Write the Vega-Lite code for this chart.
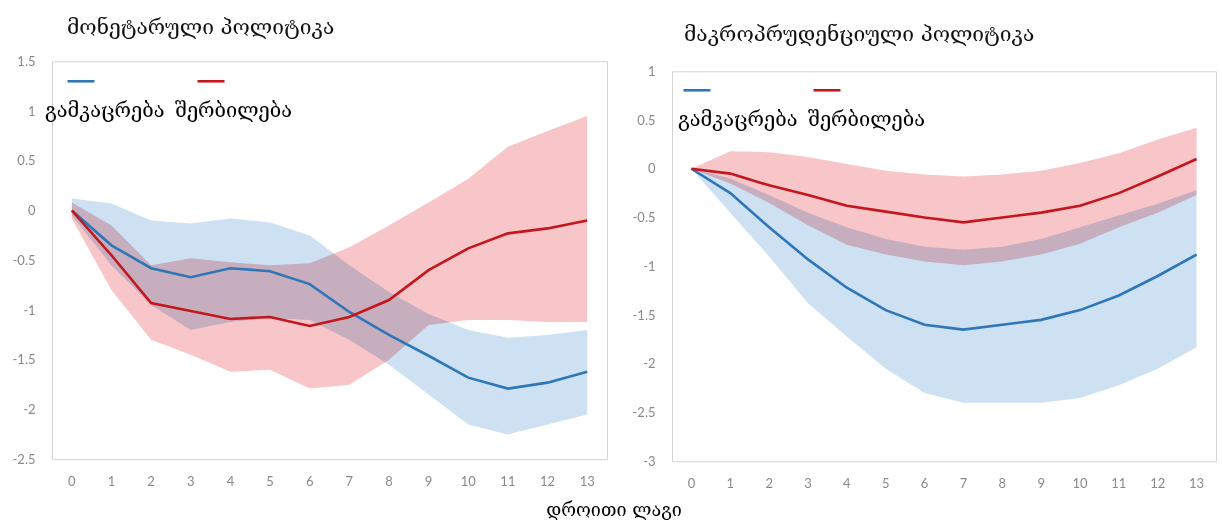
{
  "$schema": "https://vega.github.io/schema/vega-lite/v6.json",
  "background": "white",
  "padding": {"left": 11, "top": 16, "right": 4, "bottom": 0},
  "datasets": {
    "monetary": [
      {"lag": 0, "series": "გამკაცრება", "mid": 0, "lo": -0.05, "hi": 0.12},
      {"lag": 1, "series": "გამკაცრება", "mid": -0.35, "lo": -0.55, "hi": 0.07},
      {"lag": 2, "series": "გამკაცრება", "mid": -0.58, "lo": -0.95, "hi": -0.1},
      {"lag": 3, "series": "გამკაცრება", "mid": -0.67, "lo": -1.2, "hi": -0.13},
      {"lag": 4, "series": "გამკაცრება", "mid": -0.58, "lo": -1.12, "hi": -0.08},
      {"lag": 5, "series": "გამკაცრება", "mid": -0.61, "lo": -1.08, "hi": -0.12},
      {"lag": 6, "series": "გამკაცრება", "mid": -0.74, "lo": -1.1, "hi": -0.25},
      {"lag": 7, "series": "გამკაცრება", "mid": -1.02, "lo": -1.3, "hi": -0.55},
      {"lag": 8, "series": "გამკაცრება", "mid": -1.25, "lo": -1.55, "hi": -0.82},
      {"lag": 9, "series": "გამკაცრება", "mid": -1.46, "lo": -1.85, "hi": -1.04},
      {"lag": 10, "series": "გამკაცრება", "mid": -1.68, "lo": -2.15, "hi": -1.2},
      {"lag": 11, "series": "გამკაცრება", "mid": -1.79, "lo": -2.25, "hi": -1.28},
      {"lag": 12, "series": "გამკაცრება", "mid": -1.73, "lo": -2.15, "hi": -1.25},
      {"lag": 13, "series": "გამკაცრება", "mid": -1.62, "lo": -2.05, "hi": -1.2},
      {"lag": 0, "series": "შერბილება", "mid": 0, "lo": -0.08, "hi": 0.08},
      {"lag": 1, "series": "შერბილება", "mid": -0.45, "lo": -0.8, "hi": -0.15},
      {"lag": 2, "series": "შერბილება", "mid": -0.93, "lo": -1.3, "hi": -0.55},
      {"lag": 3, "series": "შერბილება", "mid": -1.01, "lo": -1.45, "hi": -0.48},
      {"lag": 4, "series": "შერბილება", "mid": -1.09, "lo": -1.62, "hi": -0.52},
      {"lag": 5, "series": "შერბილება", "mid": -1.07, "lo": -1.6, "hi": -0.55},
      {"lag": 6, "series": "შერბილება", "mid": -1.16, "lo": -1.79, "hi": -0.53},
      {"lag": 7, "series": "შერბილება", "mid": -1.07, "lo": -1.75, "hi": -0.37},
      {"lag": 8, "series": "შერბილება", "mid": -0.9, "lo": -1.5, "hi": -0.15},
      {"lag": 9, "series": "შერბილება", "mid": -0.6, "lo": -1.15, "hi": 0.08},
      {"lag": 10, "series": "შერბილება", "mid": -0.38, "lo": -1.1, "hi": 0.32},
      {"lag": 11, "series": "შერბილება", "mid": -0.23, "lo": -1.1, "hi": 0.64},
      {"lag": 12, "series": "შერბილება", "mid": -0.18, "lo": -1.12, "hi": 0.8},
      {"lag": 13, "series": "შერბილება", "mid": -0.1, "lo": -1.12, "hi": 0.95}
    ],
    "macroprudential": [
      {"lag": 0, "series": "გამკაცრება", "mid": 0, "lo": 0, "hi": 0},
      {"lag": 1, "series": "გამკაცრება", "mid": -0.25, "lo": -0.45, "hi": -0.1},
      {"lag": 2, "series": "გამკაცრება", "mid": -0.6, "lo": -0.9, "hi": -0.27},
      {"lag": 3, "series": "გამკაცრება", "mid": -0.93, "lo": -1.38, "hi": -0.45},
      {"lag": 4, "series": "გამკაცრება", "mid": -1.22, "lo": -1.72, "hi": -0.6},
      {"lag": 5, "series": "გამკაცრება", "mid": -1.45, "lo": -2.05, "hi": -0.72},
      {"lag": 6, "series": "გამკაცრება", "mid": -1.6, "lo": -2.3, "hi": -0.8},
      {"lag": 7, "series": "გამკაცრება", "mid": -1.65, "lo": -2.4, "hi": -0.83},
      {"lag": 8, "series": "გამკაცრება", "mid": -1.6, "lo": -2.4, "hi": -0.8},
      {"lag": 9, "series": "გამკაცრება", "mid": -1.55, "lo": -2.4, "hi": -0.72},
      {"lag": 10, "series": "გამკაცრება", "mid": -1.45, "lo": -2.35, "hi": -0.6},
      {"lag": 11, "series": "გამკაცრება", "mid": -1.3, "lo": -2.22, "hi": -0.48},
      {"lag": 12, "series": "გამკაცრება", "mid": -1.1, "lo": -2.05, "hi": -0.36},
      {"lag": 13, "series": "გამკაცრება", "mid": -0.88, "lo": -1.83, "hi": -0.22},
      {"lag": 0, "series": "შერბილება", "mid": 0, "lo": 0, "hi": 0},
      {"lag": 1, "series": "შერბილება", "mid": -0.05, "lo": -0.15, "hi": 0.18},
      {"lag": 2, "series": "შერბილება", "mid": -0.17, "lo": -0.35, "hi": 0.17},
      {"lag": 3, "series": "შერბილება", "mid": -0.27, "lo": -0.58, "hi": 0.12},
      {"lag": 4, "series": "შერბილება", "mid": -0.38, "lo": -0.78, "hi": 0.05},
      {"lag": 5, "series": "შერბილება", "mid": -0.44, "lo": -0.88, "hi": -0.02},
      {"lag": 6, "series": "შერბილება", "mid": -0.5, "lo": -0.95, "hi": -0.06},
      {"lag": 7, "series": "შერბილება", "mid": -0.55, "lo": -0.99, "hi": -0.08},
      {"lag": 8, "series": "შერბილება", "mid": -0.5, "lo": -0.95, "hi": -0.06},
      {"lag": 9, "series": "შერბილება", "mid": -0.45, "lo": -0.88, "hi": -0.02},
      {"lag": 10, "series": "შერბილება", "mid": -0.38, "lo": -0.77, "hi": 0.06},
      {"lag": 11, "series": "შერბილება", "mid": -0.25, "lo": -0.6, "hi": 0.16},
      {"lag": 12, "series": "შერბილება", "mid": -0.08, "lo": -0.45, "hi": 0.3},
      {"lag": 13, "series": "შერბილება", "mid": 0.1, "lo": -0.27, "hi": 0.42}
    ]
  },
  "title": {
    "text": "დროითი ლაგი",
    "orient": "bottom",
    "anchor": "middle",
    "offset": 1,
    "fontSize": 18,
    "color": "#000000"
  },
  "spacing": 23,
  "align": "each",
  "center": true,
  "hconcat": [
    {
      "width": 555,
      "height": 398,
      "title": {"text": "მონეტარული პოლიტიკა", "anchor": "start", "frame": "group", "dx": 15, "offset": 17, "fontSize": 21},
      "data": {"name": "monetary"},
      "encoding": {
        "x": {"field": "lag", "type": "ordinal", "sort": "ascending", "title": null,
              "axis": {"labelAngle": 0, "ticks": true, "tickSize": 41, "tickColor": "transparent", "tickOpacity": 0, "labelPadding": -25}}
      },
      "layer": [
        {
          "transform": [{"filter": "datum.series === 'გამკაცრება'"}],
          "mark": {"type": "area", "color": "#cde1f3", "blend": "multiply"},
          "encoding": {
            "y": {"field": "lo", "type": "quantitative",
                  "scale": {"domain": [-2.5, 1.5], "nice": false, "zero": false},
                  "axis": {"values": [-2.5, -2, -1.5, -1, -0.5, 0, 0.5, 1, 1.5], "labelExpr": "datum.value + ''", "labelPadding": 17, "title": null}},
            "y2": {"field": "hi"}
          }
        },
        {
          "transform": [{"filter": "datum.series === 'შერბილება'"}],
          "mark": {"type": "area", "color": "#f8c5c9", "blend": "multiply"},
          "encoding": {
            "y": {"field": "lo", "type": "quantitative"},
            "y2": {"field": "hi"}
          }
        },
        {
          "mark": {"type": "rule", "color": "#5a5a5a", "strokeWidth": 1.3},
          "encoding": {"y": {"datum": 0}}
        },
        {
          "mark": {"type": "line", "strokeWidth": 2.6},
          "encoding": {
            "y": {"field": "mid", "type": "quantitative"},
            "stroke": {"field": "series", "type": "nominal",
                       "scale": {"domain": ["გამკაცრება", "შერბილება"], "range": ["#2f76b7", "#c3161d"]},
                       "legend": {"legendX": 14, "legendY": 25, "labelOffset": -51}}
          }
        }
      ]
    },
    {
      "width": 544,
      "height": 390,
      "title": {"text": "მაკროპრუდენციული პოლიტიკა", "anchor": "start", "frame": "group", "dx": 12, "offset": 20, "fontSize": 21},
      "data": {"name": "macroprudential"},
      "encoding": {
        "x": {"field": "lag", "type": "ordinal", "sort": "ascending", "title": null,
              "axis": {"labelAngle": 0, "labelPadding": 16}}
      },
      "layer": [
        {
          "transform": [{"filter": "datum.series === 'გამკაცრება'"}],
          "mark": {"type": "area", "color": "#cde1f3", "blend": "multiply"},
          "encoding": {
            "y": {"field": "lo", "type": "quantitative",
                  "scale": {"domain": [-3, 1], "nice": false, "zero": false},
                  "axis": {"values": [-3, -2.5, -2, -1.5, -1, -0.5, 0, 0.5, 1], "labelExpr": "datum.value + ''", "labelPadding": 17, "title": null}},
            "y2": {"field": "hi"}
          }
        },
        {
          "transform": [{"filter": "datum.series === 'შერბილება'"}],
          "mark": {"type": "area", "color": "#f8c5c9", "blend": "multiply"},
          "encoding": {
            "y": {"field": "lo", "type": "quantitative"},
            "y2": {"field": "hi"}
          }
        },
        {
          "mark": {"type": "rule", "color": "#5a5a5a", "strokeWidth": 1.3},
          "encoding": {"y": {"datum": 0}}
        },
        {
          "mark": {"type": "line", "strokeWidth": 2.6},
          "encoding": {
            "y": {"field": "mid", "type": "quantitative"},
            "stroke": {"field": "series", "type": "nominal",
                       "scale": {"domain": ["გამკაცრება", "შერბილება"], "range": ["#2f76b7", "#c3161d"]},
                       "legend": {"legendX": 10, "legendY": 24, "labelOffset": -34}}
          }
        }
      ]
    }
  ],
  "resolve": {
    "scale": {"stroke": "independent"},
    "legend": {"stroke": "independent"}
  },
  "config": {
    "view": {"stroke": "#d4d4d4", "strokeWidth": 1},
    "axis": {
      "labelFont": "Lato",
      "labelFontSize": 13,
      "labelColor": "#8a8a8a",
      "grid": false,
      "ticks": false,
      "domain": false
    },
    "title": {
      "font": "DejaVu Serif",
      "fontWeight": "normal",
      "color": "#111111"
    },
    "legend": {
      "orient": "none",
      "direction": "horizontal",
      "title": null,
      "symbolType": "M-1,-1.48L1,-1.48",
      "symbolSize": 729,
      "symbolStrokeWidth": 2.6,
      "labelFont": "DejaVu Serif",
      "labelFontSize": 20,
      "labelColor": "#000000",
      "labelBaseline": "top",
      "labelLimit": 300,
      "columnPadding": 10
    }
  }
}
